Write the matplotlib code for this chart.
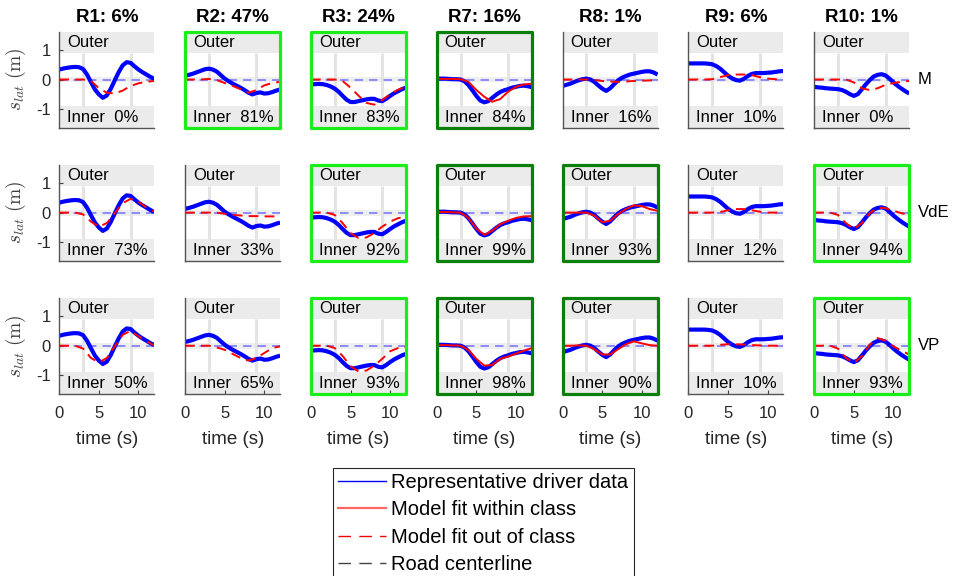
import matplotlib
matplotlib.use("Agg")
import matplotlib.pyplot as plt
from matplotlib.lines import Line2D
from matplotlib.patches import Rectangle
from matplotlib.transforms import blended_transform_factory

plt.rcParams['font.family'] = ['Liberation Sans', 'DejaVu Sans']
plt.rcParams['mathtext.fontset'] = 'cm'
plt.rcParams['axes.unicode_minus'] = False

# ---------------- data ----------------
classes = ['R1', 'R2', 'R3', 'R7', 'R8', 'R9', 'R10']
class_share = [6, 47, 24, 16, 1, 6, 1]
models = ['M', 'VdE', 'VP']

# time bases (s)
t_drv = [k * 0.5 for k in range(25)]
t_fit = list(range(13))

# representative driver lateral position per class (m), sampled every 0.5 s
drv_R1 = [0.34, 0.375, 0.40, 0.42, 0.43, 0.42, 0.36, 0.17, -0.09, -0.34, -0.51, -0.625, -0.545,
          -0.32, -0.03, 0.25, 0.48, 0.59, 0.57, 0.45, 0.34, 0.25, 0.17, 0.09, 0.02]
drv_R2 = [0.13, 0.16, 0.20, 0.25, 0.30, 0.35, 0.37, 0.34, 0.27, 0.15, 0.03, -0.06, -0.14,
          -0.21, -0.28, -0.36, -0.45, -0.51, -0.46, -0.44, -0.48, -0.47, -0.43, -0.38, -0.34]
drv_R3 = [-0.17, -0.16, -0.15, -0.16, -0.19, -0.24, -0.31, -0.42, -0.56, -0.69, -0.77, -0.77, -0.74,
          -0.71, -0.68, -0.66, -0.66, -0.72, -0.74, -0.66, -0.56, -0.47, -0.40, -0.33, -0.28]
drv_R7 = [0.03, 0.03, 0.03, 0.02, 0.01, 0.01, 0.0, -0.06, -0.19, -0.37, -0.56, -0.72, -0.78,
          -0.74, -0.63, -0.52, -0.43, -0.37, -0.33, -0.28, -0.25, -0.22, -0.21, -0.23, -0.26]
drv_R8 = [-0.22, -0.18, -0.14, -0.08, -0.03, 0.01, 0.03, 0.0, -0.08, -0.20, -0.31, -0.39, -0.30,
          -0.16, -0.03, 0.06, 0.12, 0.17, 0.20, 0.23, 0.26, 0.28, 0.28, 0.24, 0.17]
drv_R9 = [0.55, 0.55, 0.55, 0.55, 0.55, 0.54, 0.52, 0.46, 0.37, 0.25, 0.13, 0.04, -0.02,
          -0.04, 0.02, 0.12, 0.19, 0.22, 0.22, 0.22, 0.23, 0.24, 0.26, 0.28, 0.29]
drv_R10 = [-0.25, -0.27, -0.28, -0.30, -0.31, -0.32, -0.33, -0.36, -0.42, -0.50, -0.56, -0.50, -0.34,
           -0.17, -0.02, 0.10, 0.16, 0.18, 0.14, 0.03, -0.10, -0.21, -0.31, -0.40, -0.48]
driver_data = [drv_R1, drv_R2, drv_R3, drv_R7, drv_R8, drv_R9, drv_R10]

# model fits per class (m), sampled every 1 s
fit_M = [
    [0, 0, 0, 0, -0.05, -0.30, -0.45, -0.48, -0.38, -0.22, -0.13, -0.08, -0.05],
    [0, 0, 0, 0.02, -0.02, -0.12, -0.22, -0.33, -0.45, -0.36, -0.20, -0.12, -0.08],
    [0, 0, 0, 0, -0.05, -0.28, -0.55, -0.80, -0.86, -0.70, -0.50, -0.35, -0.23],
    [0.02, 0.02, 0.02, 0.01, -0.08, -0.36, -0.59, -0.76, -0.67, -0.42, -0.25, -0.17, -0.14],
    [0, 0, 0, 0, -0.02, -0.05, -0.07, -0.08, -0.07, -0.05, -0.04, -0.03, -0.03],
    [0, 0, 0, 0.01, 0.08, 0.15, 0.17, 0.17, 0.15, 0.08, 0.03, 0.01, 0],
    [0, 0, 0, 0, 0, -0.10, -0.30, -0.36, -0.30, -0.18, -0.12, -0.08, -0.05],
]
fit_VdE = [
    [0, 0, 0, -0.06, -0.31, -0.48, -0.36, -0.02, 0.32, 0.47, 0.37, 0.17, 0.03],
    [0, 0, 0, 0, 0, -0.04, -0.08, -0.10, -0.12, -0.12, -0.13, -0.13, -0.13],
    [0, 0, 0, -0.08, -0.36, -0.70, -0.87, -0.85, -0.70, -0.48, -0.31, -0.19, -0.14],
    [0.02, 0.02, 0.01, 0, -0.18, -0.55, -0.76, -0.62, -0.40, -0.28, -0.18, -0.13, -0.12],
    [0, 0, 0, 0, -0.10, -0.33, -0.28, -0.05, 0.12, 0.25, 0.22, 0.12, 0.06],
    [0, 0, 0, 0, 0.02, 0.08, 0.12, 0.12, 0.08, 0.03, 0, 0, 0],
    [0, 0, 0, -0.08, -0.36, -0.56, -0.36, -0.02, 0.17, 0.15, 0.06, -0.02, -0.08],
]
fit_VP = [
    [0, 0, 0, -0.10, -0.42, -0.57, -0.42, -0.02, 0.37, 0.51, 0.32, 0.15, 0.01],
    [0, 0, 0, 0, -0.06, -0.14, -0.28, -0.42, -0.51, -0.42, -0.25, -0.08, -0.02],
    [0, 0, 0, -0.08, -0.35, -0.70, -0.88, -0.85, -0.68, -0.45, -0.19, -0.08, -0.03],
    [0.02, 0.02, 0.01, 0, -0.15, -0.45, -0.68, -0.66, -0.45, -0.37, -0.27, -0.17, -0.08],
    [0, 0, 0.01, 0, -0.12, -0.30, -0.30, -0.12, 0.05, 0.15, 0.08, 0.02, 0],
    [0, 0, 0, 0, 0.03, 0.05, 0.05, 0.04, 0.02, 0.01, 0, 0, 0],
    [0, 0, 0, -0.10, -0.42, -0.59, -0.36, 0.03, 0.26, 0.17, -0.02, -0.17, -0.30],
]
model_fits = [fit_M, fit_VdE, fit_VP]

# fit scores (%)
score_M = [0, 81, 83, 84, 16, 10, 0]
score_VdE = [73, 33, 92, 99, 93, 12, 94]
score_VP = [50, 65, 93, 98, 90, 10, 93]
model_scores = [score_M, score_VdE, score_VP]

# classes each model was calibrated on
own_classes = {'M': ['R7'], 'VdE': ['R7', 'R8'], 'VP': ['R7', 'R8']}
good_fit_threshold = 80

# ---------------- layout ----------------
W, H = 954, 576
fig = plt.figure(figsize=(W / 100, H / 100), dpi=100)

ax_w, ax_h = 95.0, 96.0
left0, col_step = 59.3, 125.83
top0, row_step = 31.5, 133.1
ylim = 1.64
lane_edge = 0.9
curve_marks = [3, 9]

tick_col = '#404040'
band_col = '#ebebeb'

for j, model in enumerate(models):
    for i, cls in enumerate(classes):
        left = left0 + i * col_step
        top = top0 + j * row_step
        ax = fig.add_axes([left / W, 1 - (top + ax_h) / H, ax_w / W, ax_h / H])
        ax.set_xlim(0, 12)
        ax.set_ylim(-ylim, ylim)

        # road layout background
        ax.axhspan(lane_edge, ylim, color=band_col, lw=0, zorder=0)
        ax.axhspan(-ylim, -lane_edge, color=band_col, lw=0, zorder=0)
        ax.axhspan(-0.1, 0.1, color='#eeeeee', lw=0, zorder=0)
        ax.vlines(curve_marks, -lane_edge, lane_edge, color='#e4e4e4', lw=2.2, zorder=0.5)
        ax.axhline(0, color='#7070ff', lw=1.1, dashes=(5.5, 4), zorder=1)

        in_class = cls in own_classes[model]
        score = model_scores[j][i]

        ax.plot(t_drv, driver_data[i], color='#0000ff', lw=3.0, zorder=2,
                solid_capstyle='butt', solid_joinstyle='round')
        if in_class:
            ax.plot(t_fit, model_fits[j][i], color='#ff0000', lw=1.4, zorder=3)
        else:
            ax.plot(t_fit, model_fits[j][i], color='#ff0000', lw=1.4, zorder=3,
                    dashes=(5, 3.2))

        ax.text(1.0, 1.28, 'Outer', fontsize=12, va='center', ha='left', zorder=4)
        ax.text(1.0, -1.30, f'Inner  {score}%', fontsize=12, va='center', ha='left', zorder=4)

        # frame
        if in_class or score >= good_fit_threshold:
            frame_col = '#0a800a' if in_class else '#19ee19'
            for s in ax.spines.values():
                s.set_visible(False)
            ax.add_patch(Rectangle((0, 0), 1, 1, transform=ax.transAxes, fill=False,
                                   ec=frame_col, lw=2.3, clip_on=False, zorder=10,
                                   joinstyle='round'))
        else:
            ax.spines['top'].set_visible(False)
            ax.spines['right'].set_visible(False)
            for s in ('left', 'bottom'):
                ax.spines[s].set_color('#555555')
                ax.spines[s].set_linewidth(1.0)

        ax.tick_params(direction='in', length=3, color=tick_col, labelsize=12,
                       labelcolor='#262626')
        ax.tick_params(axis='y', pad=6)
        ax.tick_params(axis='x', pad=9)
        if i == 0:
            ax.set_yticks([-1, 0, 1])
            ax.set_yticklabels(['-1', '0', '1'])
            ax.set_ylabel(r'$s_{lat}\ (\mathrm{m})$', fontsize=14, color='#404040')
            ax.yaxis.set_label_coords(-31 / ax_w, 0.5)
        else:
            ax.set_yticks([])
        if j == len(models) - 1:
            ax.set_xticks([0, 5, 10])
            ax.set_xlabel('time (s)', fontsize=13.5, labelpad=7, color='#262626')
        else:
            ax.set_xticks([])

        if j == 0:
            ax.text(0.5, 1 + 9 / ax_h, f'{cls}: {class_share[i]}%', transform=ax.transAxes,
                    ha='center', va='baseline', fontsize=13.5, fontweight='bold')
        if i == len(classes) - 1:
            tr = blended_transform_factory(ax.transAxes, ax.transData)
            ax.text(1 + 8.7 / ax_w, 0, model, transform=tr, va='center', ha='left',
                    fontsize=12)

handles = [
    Line2D([], [], color='#0000ff', lw=1.0),
    Line2D([], [], color='#ff6666', lw=1.6),
    Line2D([], [], color='#ee0000', lw=1.0, dashes=(9, 6)),
    Line2D([], [], color='#444444', lw=1.0, dashes=(9, 6)),
]
labels = ['Representative driver data', 'Model fit within class',
          'Model fit out of class', 'Road centerline']
leg = fig.legend(handles, labels, loc='upper left',
                 bbox_to_anchor=(333 / W, 1 - 468 / H), fontsize=14.5,
                 frameon=True, fancybox=False, edgecolor='#262626', framealpha=1,
                 borderpad=0.25, handlelength=2.4, handletextpad=0.25,
                 labelspacing=0.42, borderaxespad=0)
leg.get_frame().set_linewidth(0.8)

fig.savefig('out.png', dpi=100)
